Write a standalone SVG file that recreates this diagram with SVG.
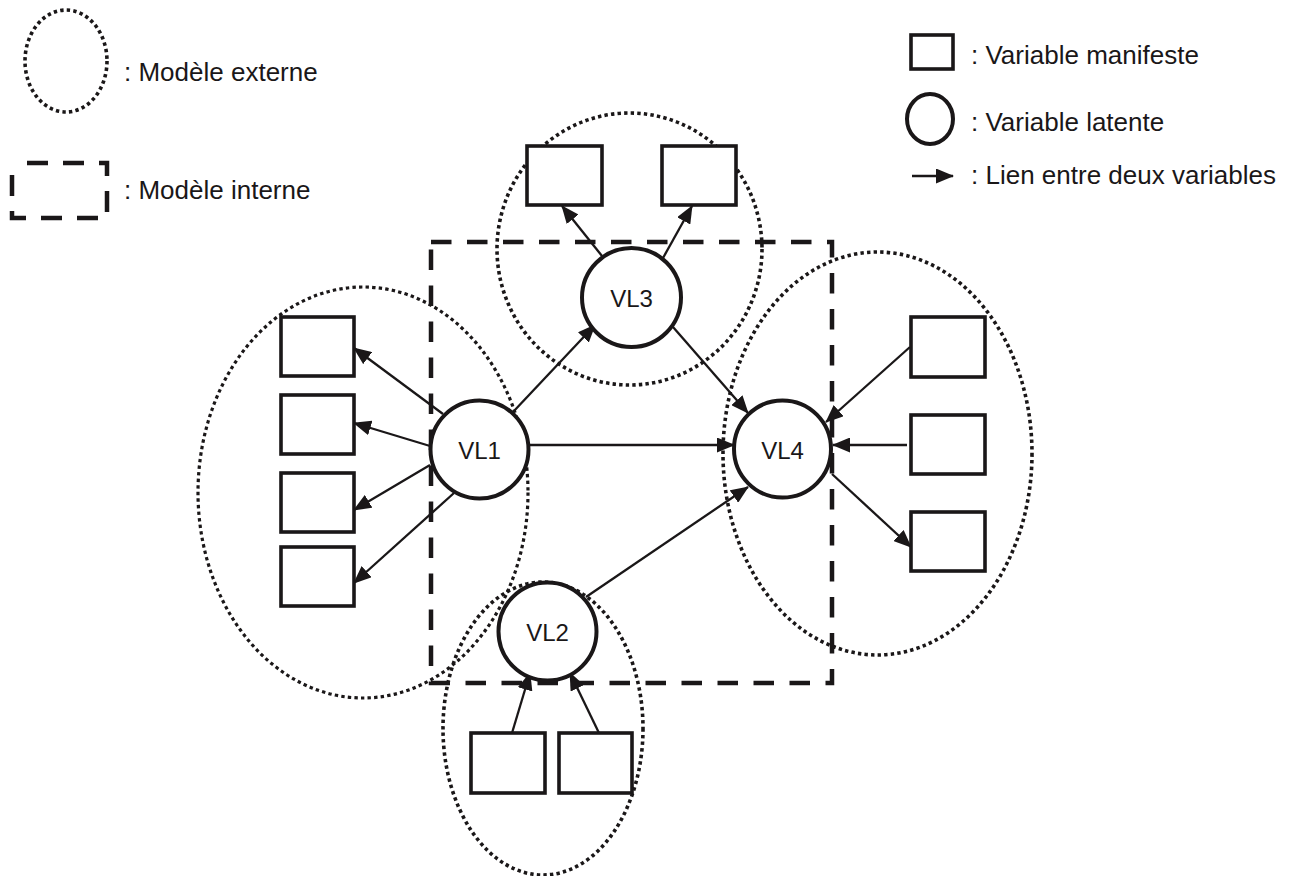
<svg xmlns="http://www.w3.org/2000/svg" width="1289" height="876" viewBox="0 0 1289 876">
<defs>
<style>
.txt{font-family:"Liberation Sans",Arial,sans-serif;font-size:26px;fill:#1a1718}
.lbl{font-family:"Liberation Sans",Arial,sans-serif;font-size:24px;fill:#1a1718;text-anchor:middle;dominant-baseline:central}
.dot{fill:none;stroke:#1a1718;stroke-width:3.6;stroke-dasharray:3.4 3.2}
.dash{fill:none;stroke:#1a1718;stroke-width:4.5;stroke-dasharray:20.5 15.5}
.sq{fill:#fff;stroke:#1a1718;stroke-width:3.6}
.lv{fill:#fff;stroke:#1a1718;stroke-width:4}
.ar{stroke:#1a1718;stroke-width:2.3;fill:none;marker-end:url(#ah)}
</style>
<marker id="ah" markerUnits="userSpaceOnUse" markerWidth="18" markerHeight="15" refX="17" refY="7.5" orient="auto">
<path d="M0,0 L18,7.5 L0,15 z" fill="#1a1718"/>
</marker>
</defs>
<rect width="1289" height="876" fill="#fff"/>

<g id="legend">
<ellipse class="dot" cx="66" cy="61" rx="41" ry="51"/>
<text class="txt" x="124" y="81">: Modèle externe</text>
<path class="dash" d="M12,163 H107 V218 H12 Z" style="stroke-dasharray:21 15;stroke-dashoffset:21"/>
<text class="txt" x="124" y="199">: Modèle interne</text>
<rect class="sq" x="911" y="35" width="42" height="34"/>
<text class="txt" x="971" y="64">: Variable manifeste</text>
<ellipse class="lv" cx="930" cy="119" rx="23" ry="25"/>
<text class="txt" x="971" y="131">: Variable latente</text>
<line class="ar" x1="912" y1="176" x2="953" y2="176"/>
<text class="txt" x="971" y="184">: Lien entre deux variables</text>
</g>

<g id="external-models">
<ellipse id="ext-vl3" class="dot" cx="629.5" cy="249" rx="132.5" ry="136"/>
<ellipse id="ext-vl1" class="dot" cx="363" cy="492.5" rx="165" ry="205.5" style="stroke-width:3.2"/>
<ellipse id="ext-vl4" class="dot" cx="877.5" cy="453.5" rx="154.5" ry="201.5"/>
<ellipse id="ext-vl2" class="dot" cx="543" cy="728.5" rx="100" ry="146.5"/>
</g>

<g id="internal-model">
<rect class="dash" x="431" y="242" width="401" height="441"/>
</g>

<g id="connectors">
<line class="ar" x1="602" y1="256" x2="562" y2="206"/>
<line class="ar" x1="663" y1="258" x2="692" y2="206"/>
<line class="ar" x1="513" y1="412" x2="595" y2="325"/>
<line class="ar" x1="673" y1="327" x2="748" y2="413"/>
<line class="ar" x1="528" y1="445" x2="734" y2="445"/>
<line class="ar" x1="586" y1="597" x2="748" y2="487"/>
<line class="ar" x1="443" y1="414" x2="354" y2="348"/>
<line class="ar" x1="430" y1="446" x2="354" y2="423"/>
<line class="ar" x1="430" y1="465" x2="354" y2="510"/>
<line class="ar" x1="454" y1="493" x2="354" y2="583"/>
<line class="ar" x1="910" y1="347" x2="826" y2="422"/>
<line class="ar" x1="907" y1="445" x2="833" y2="445"/>
<line class="ar" x1="832" y1="474" x2="911" y2="547"/>
<line class="ar" x1="512" y1="733" x2="530" y2="673"/>
<line class="ar" x1="599" y1="733" x2="570" y2="673"/>
</g>

<g id="VL1"><circle class="lv" cx="479.5" cy="449.5" r="49"/><text class="lbl" x="479.5" y="450">VL1</text></g>
<g id="VL2"><circle class="lv" cx="547.5" cy="631.5" r="49"/><text class="lbl" x="547.5" y="632">VL2</text></g>
<g id="VL3"><circle class="lv" cx="631.5" cy="297.5" r="49.5"/><text class="lbl" x="631.5" y="298">VL3</text></g>
<g id="VL4"><circle class="lv" cx="782.5" cy="449" r="48.5"/><text class="lbl" x="782.5" y="450">VL4</text></g>

<g id="MV3a"><rect class="sq" x="527" y="146" width="75" height="59"/></g>
<g id="MV3b"><rect class="sq" x="662" y="146" width="74" height="59"/></g>
<g id="MV1a"><rect class="sq" x="281" y="317" width="73" height="59"/></g>
<g id="MV1b"><rect class="sq" x="281" y="395" width="73" height="59"/></g>
<g id="MV1c"><rect class="sq" x="281" y="473" width="73" height="59"/></g>
<g id="MV1d"><rect class="sq" x="281" y="547" width="73" height="59"/></g>
<g id="MV4a"><rect class="sq" x="911" y="317" width="74" height="60"/></g>
<g id="MV4b"><rect class="sq" x="911" y="415" width="74" height="59"/></g>
<g id="MV4c"><rect class="sq" x="911" y="512" width="74" height="59"/></g>
<g id="MV2a"><rect class="sq" x="471" y="733" width="74" height="60"/></g>
<g id="MV2b"><rect class="sq" x="559" y="733" width="73" height="60"/></g>
</svg>
